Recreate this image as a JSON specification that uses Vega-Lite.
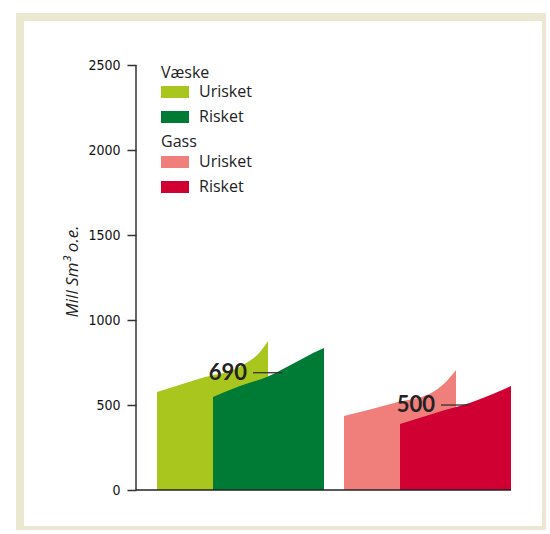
{
  "$schema": "https://vega.github.io/schema/vega-lite/v6.json",
  "width": 526,
  "height": 513,
  "autosize": "none",
  "padding": {"left": 20, "top": 17, "right": 0, "bottom": 0},
  "background": "white",
  "view": {"fill": "white", "stroke": "#ebe8d1", "strokeWidth": 8},
  "config": {"font": "Open Sans"},
  "datasets": {
    "areas": [
      {"group": "Væske", "vaeske": "Urisket", "x": 21, "v": 576},
      {"group": "Væske", "vaeske": "Urisket", "x": 64, "v": 656},
      {"group": "Væske", "vaeske": "Urisket", "x": 107, "v": 735},
      {"group": "Væske", "vaeske": "Urisket", "x": 124, "v": 812},
      {"group": "Væske", "vaeske": "Urisket", "x": 132, "v": 876},
      {"group": "Væske", "vaeske": "Risket", "x": 77, "v": 547},
      {"group": "Væske", "vaeske": "Risket", "x": 104, "v": 612},
      {"group": "Væske", "vaeske": "Risket", "x": 133, "v": 670},
      {"group": "Væske", "vaeske": "Risket", "x": 147, "v": 712},
      {"group": "Væske", "vaeske": "Risket", "x": 164, "v": 765},
      {"group": "Væske", "vaeske": "Risket", "x": 177, "v": 806},
      {"group": "Væske", "vaeske": "Risket", "x": 188, "v": 835},
      {"group": "Gass", "gass": "Urisket", "x": 208, "v": 435},
      {"group": "Gass", "gass": "Urisket", "x": 260, "v": 515},
      {"group": "Gass", "gass": "Urisket", "x": 296, "v": 574},
      {"group": "Gass", "gass": "Urisket", "x": 308, "v": 625},
      {"group": "Gass", "gass": "Urisket", "x": 320, "v": 706},
      {"group": "Gass", "gass": "Risket", "x": 264, "v": 388},
      {"group": "Gass", "gass": "Risket", "x": 309, "v": 470},
      {"group": "Gass", "gass": "Risket", "x": 335, "v": 515},
      {"group": "Gass", "gass": "Risket", "x": 355, "v": 560},
      {"group": "Gass", "gass": "Risket", "x": 375, "v": 612}
    ],
    "axisline": [{"x": 0, "v": 0, "v2": 2500}],
    "baseline": [{"x": 0, "x2": 375, "v": 0}],
    "labels": [
      {"label": "690", "x": 117, "x2": 146, "v": 690},
      {"label": "500", "x": 305, "x2": 333, "v": 500}
    ]
  },
  "encoding": {
    "x": {"field": "x", "type": "quantitative", "scale": {"domain": [-116, 410], "nice": false, "zero": false}, "axis": null},
    "y": {
      "field": "v", "type": "quantitative", "stack": null,
      "scale": {"domain": [-235.2, 2782.4], "nice": false, "zero": false},
      "axis": {
        "values": [0, 500, 1000, 1500, 2000, 2500],
        "format": "d",
        "offset": -116,
        "domain": false,
        "grid": false,
        "tickSize": 9,
        "tickWidth": 1.5,
        "tickColor": "#333",
        "labelFont": "DejaVu Sans Condensed",
        "labelFontSize": 14,
        "labelColor": "#111",
        "labelPadding": 7,
        "title": "Mill Sm³ o.e.",
        "titleFont": "Open Sans",
        "titleFontStyle": "italic",
        "titleFontWeight": "normal",
        "titleFontSize": 17,
        "titleColor": "#222",
        "titleAngle": -90,
        "titleAlign": "center",
        "titleBaseline": "middle",
        "titleX": -64,
        "titleY": 254
      }
    }
  },
  "layer": [
    {
      "data": {"name": "areas"},
      "transform": [{"filter": "datum.vaeske == 'Urisket'"}],
      "mark": {"type": "area", "interpolate": "monotone"},
      "encoding": {
        "fill": {
          "field": "vaeske", "type": "nominal",
          "scale": {"domain": ["Urisket", "Risket"], "range": ["#a8c61e", "#007b35"]},
          "legend": {
            "title": "Væske", "orient": "none", "legendX": 141, "legendY": 48,
            "symbolType": "M-1,-0.43H1V0.43H-1Z", "symbolSize": 784, "symbolStrokeWidth": 0,
            "labelFontSize": 16, "labelFont": "Open Sans", "labelColor": "#222", "labelOffset": 10,
            "titleFontSize": 16, "titleFont": "Open Sans", "titleFontWeight": "normal", "titleColor": "#222",
            "titlePadding": -3, "rowPadding": 3, "padding": 0
          }
        }
      }
    },
    {
      "data": {"name": "areas"},
      "transform": [{"filter": "datum.vaeske == 'Risket'"}],
      "mark": {"type": "area", "interpolate": "monotone"},
      "encoding": {"fill": {"field": "vaeske", "type": "nominal"}}
    },
    {
      "data": {"name": "areas"},
      "transform": [{"filter": "datum.gass == 'Urisket'"}],
      "mark": {"type": "area", "interpolate": "monotone"},
      "encoding": {
        "color": {
          "field": "gass", "type": "nominal",
          "sort": ["Urisket", "Risket"],
          "scale": {"range": ["#f07e7a", "#d10033"]},
          "legend": {
            "title": "Gass", "orient": "none", "legendX": 141, "legendY": 117,
            "symbolType": "M-1,-0.43H1V0.43H-1Z", "symbolSize": 784, "symbolStrokeWidth": 0,
            "labelFontSize": 16, "labelFont": "Open Sans", "labelColor": "#222", "labelOffset": 10,
            "titleFontSize": 16, "titleFont": "Open Sans", "titleFontWeight": "normal", "titleColor": "#222",
            "titlePadding": -2, "rowPadding": 3, "padding": 0
          }
        }
      }
    },
    {
      "data": {"name": "areas"},
      "transform": [{"filter": "datum.gass == 'Risket'"}],
      "mark": {"type": "area", "interpolate": "monotone"},
      "encoding": {"color": {"field": "gass", "type": "nominal", "sort": ["Urisket", "Risket"]}}
    },
    {
      "data": {"name": "axisline"},
      "mark": {"type": "rule", "color": "#333", "strokeWidth": 1.5},
      "encoding": {"y2": {"field": "v2"}}
    },
    {
      "data": {"name": "baseline"},
      "mark": {"type": "rule", "color": "#222", "strokeWidth": 1.5},
      "encoding": {"x2": {"field": "x2"}}
    },
    {
      "data": {"name": "labels"},
      "mark": {"type": "rule", "color": "#333", "strokeWidth": 1.3},
      "encoding": {"x2": {"field": "x2"}}
    },
    {
      "data": {"name": "labels"},
      "mark": {"type": "text", "align": "right", "baseline": "middle", "dx": -6, "font": "Lato", "fontWeight": "bold", "fontSize": 22, "color": "#222"},
      "encoding": {"text": {"field": "label"}}
    }
  ]
}
